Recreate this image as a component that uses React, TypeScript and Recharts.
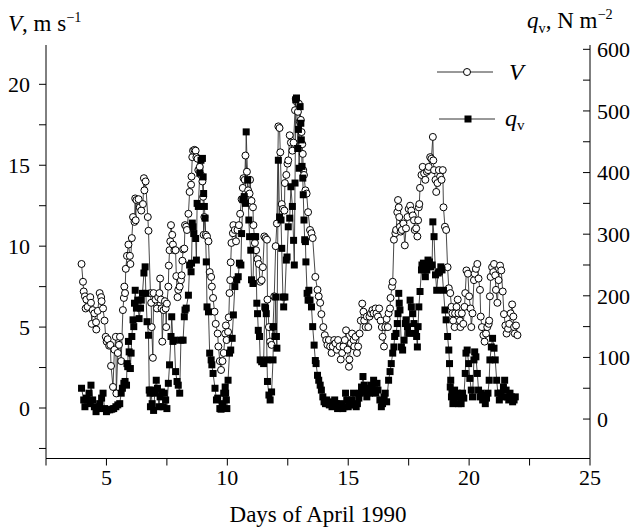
import { ComposedChart, Legend, Line, XAxis, YAxis } from "recharts";

// wind speed V (m/s), [day of April, value]
const V_POINTS: [number, number][] = [
  [3.97, 8.9], [4.03, 7.8], [4.06, 7.2], [4.11, 6.9], [4.14, 6.15], [4.17, 6.7], [4.22, 6.25],
  [4.33, 6.85], [4.36, 6.5], [4.39, 5.2], [4.43, 6.05], [4.5, 5.85], [4.57, 5.3], [4.58, 4.85],
  [4.64, 6.0], [4.72, 7.1], [4.78, 6.85], [4.8, 6.6], [4.86, 6.15], [4.92, 5.4], [4.97, 4.4],
  [5.01, 4.1], [5.05, 4.25], [5.11, 3.85], [5.16, 3.9], [5.19, 2.6], [5.27, 1.3], [5.33, 3.6],
  [5.39, 4.4], [5.41, 0.9], [5.47, 3.4], [5.52, 3.9], [5.56, 4.4], [5.61, 2.9], [5.68, 6.05],
  [5.72, 6.8], [5.74, 7.5], [5.77, 7.1], [5.8, 8.6], [5.85, 9.4], [5.91, 10.1], [5.97, 9.4],
  [5.99, 8.9], [6.05, 10.5], [6.1, 11.8], [6.16, 11.5], [6.19, 12.95], [6.21, 11.6], [6.24, 12.85],
  [6.33, 12.9], [6.38, 12.4], [6.44, 12.2], [6.51, 12.6], [6.55, 14.2], [6.57, 13.45], [6.62, 14.0],
  [6.71, 11.8], [6.74, 10.95], [6.82, 7.1], [6.85, 6.5], [6.87, 5.0], [6.92, 3.1], [6.95, 7.1],
  [7.03, 6.7], [7.09, 6.15], [7.14, 6.85], [7.19, 7.1], [7.22, 8.0], [7.25, 6.7], [7.28, 6.15],
  [7.31, 4.1], [7.36, 6.05], [7.42, 6.6], [7.45, 6.15], [7.47, 5.0], [7.5, 6.45], [7.56, 7.5],
  [7.58, 8.8], [7.61, 9.75], [7.64, 10.3], [7.67, 11.3], [7.72, 10.7], [7.75, 10.1], [7.81, 9.75],
  [7.86, 9.75], [7.89, 8.15], [7.94, 6.85], [7.97, 7.3], [8.03, 7.5], [8.08, 7.9], [8.11, 8.2],
  [8.14, 9.1], [8.17, 9.8], [8.22, 9.85], [8.25, 11.3], [8.3, 11.2], [8.33, 11.0], [8.39, 12.0],
  [8.44, 13.35], [8.5, 13.8], [8.52, 14.3], [8.55, 15.5], [8.58, 15.9], [8.64, 15.95], [8.69, 15.9],
  [8.72, 15.5], [8.77, 15.4], [8.8, 14.7], [8.86, 14.9], [8.91, 14.4], [8.97, 14.0], [9.0, 13.05],
  [9.02, 10.7], [9.05, 11.8], [9.11, 10.7], [9.16, 10.6], [9.22, 10.3], [9.27, 8.4], [9.33, 8.1],
  [9.36, 7.5], [9.41, 6.8], [9.47, 5.95], [9.52, 5.2], [9.6, 4.6], [9.63, 3.8], [9.69, 2.9],
  [9.74, 2.35], [9.8, 2.9], [9.85, 3.4], [9.91, 4.6], [9.94, 5.1], [9.97, 4.2], [10.03, 4.7],
  [10.06, 5.6], [10.09, 7.1], [10.12, 7.9], [10.14, 9.0], [10.17, 10.2], [10.23, 10.8], [10.25, 11.3],
  [10.31, 11.0], [10.36, 10.3], [10.42, 11.0], [10.48, 11.3], [10.53, 12.0], [10.59, 12.9],
  [10.64, 13.6], [10.67, 14.2], [10.72, 14.1], [10.75, 15.6], [10.81, 14.6], [10.86, 13.45],
  [10.92, 13.25], [10.94, 14.1], [11.0, 12.8], [11.06, 12.4], [11.08, 11.3], [11.14, 10.2],
  [11.19, 9.75], [11.25, 9.2], [11.3, 8.9], [11.36, 7.8], [11.42, 7.9], [11.47, 8.7], [11.53, 10.6],
  [11.58, 10.5], [11.64, 10.4], [11.66, 6.7], [11.72, 5.0], [11.77, 4.1], [11.83, 3.9], [11.89, 5.0],
  [11.94, 6.9], [12.0, 10.0], [12.05, 11.4], [12.11, 17.4], [12.16, 17.3], [12.19, 15.8],
  [12.25, 12.6], [12.3, 12.3], [12.36, 12.2], [12.38, 13.9], [12.44, 14.4], [12.49, 15.1],
  [12.52, 15.3], [12.58, 16.85], [12.63, 16.4], [12.69, 15.9], [12.74, 16.4], [12.8, 18.4],
  [12.83, 19.1], [12.88, 18.9], [12.92, 18.3], [12.96, 18.8], [13.0, 17.7], [13.04, 17.8],
  [13.07, 17.05], [13.1, 16.3], [13.12, 15.7], [13.14, 14.7], [13.17, 14.4], [13.23, 13.45],
  [13.28, 13.25], [13.34, 12.1], [13.42, 11.0], [13.48, 10.8], [13.53, 10.5], [13.64, 8.1],
  [13.73, 7.3], [13.78, 6.9], [13.84, 6.5], [13.89, 5.8], [13.97, 5.0], [14.03, 4.5], [14.09, 4.2],
  [14.14, 3.9], [14.2, 4.2], [14.25, 3.8], [14.31, 3.4], [14.36, 3.8], [14.42, 4.2], [14.47, 4.0],
  [14.53, 3.6], [14.58, 4.2], [14.64, 3.8], [14.69, 3.0], [14.75, 3.4], [14.8, 3.8], [14.86, 4.2],
  [14.91, 4.8], [14.97, 3.6], [15.03, 2.55], [15.05, 3.0], [15.11, 4.0], [15.16, 4.6], [15.22, 4.2],
  [15.25, 3.8], [15.3, 4.4], [15.36, 3.4], [15.41, 3.8], [15.47, 4.6], [15.52, 5.4], [15.58, 6.45],
  [15.63, 5.95], [15.66, 5.4], [15.72, 5.0], [15.77, 5.65], [15.83, 5.0], [15.88, 5.65],
  [15.94, 5.85], [16.0, 6.05], [16.05, 5.85], [16.13, 6.15], [16.17, 5.85], [16.23, 5.65],
  [16.28, 6.15], [16.34, 5.4], [16.39, 5.0], [16.42, 4.4], [16.48, 3.8], [16.53, 5.0], [16.59, 5.5],
  [16.64, 5.0], [16.67, 5.85], [16.73, 6.15], [16.75, 6.8], [16.81, 7.5], [16.84, 7.8], [16.89, 10.4],
  [16.95, 10.8], [16.98, 11.0], [17.03, 12.1], [17.06, 12.85], [17.09, 12.4], [17.11, 11.8],
  [17.14, 11.2], [17.17, 10.9], [17.22, 11.0], [17.28, 11.4], [17.34, 10.05], [17.39, 11.1],
  [17.45, 11.8], [17.5, 12.3], [17.56, 12.5], [17.61, 12.2], [17.67, 11.9], [17.72, 11.6],
  [17.75, 11.0], [17.81, 11.1], [17.86, 10.6], [17.89, 11.6], [17.92, 12.4], [17.94, 12.6],
  [17.97, 13.6], [18.03, 14.4], [18.08, 14.9], [18.14, 14.5], [18.19, 14.1], [18.25, 14.6],
  [18.3, 14.7], [18.33, 14.9], [18.39, 15.5], [18.44, 15.4], [18.5, 16.75], [18.52, 15.3],
  [18.55, 14.7], [18.61, 14.1], [18.64, 13.35], [18.69, 13.9], [18.75, 14.7], [18.8, 14.3],
  [18.86, 14.1], [18.91, 14.7], [18.94, 12.4], [19.0, 11.2], [19.05, 11.0], [19.11, 8.7],
  [19.16, 7.4], [19.22, 7.1], [19.27, 6.25], [19.31, 5.85], [19.34, 5.4], [19.4, 5.0], [19.42, 5.85],
  [19.48, 6.25], [19.53, 6.7], [19.56, 5.85], [19.62, 5.4], [19.64, 5.0], [19.7, 5.85], [19.76, 5.2],
  [19.81, 6.25], [19.84, 7.1], [19.89, 8.5], [19.95, 8.3], [20.0, 6.9], [20.06, 6.15], [20.09, 5.0],
  [20.14, 5.85], [20.2, 7.9], [20.23, 8.3], [20.28, 8.6], [20.34, 8.9], [20.39, 8.0], [20.45, 7.3],
  [20.48, 5.65], [20.53, 5.0], [20.59, 4.5], [20.64, 4.1], [20.7, 4.6], [20.75, 5.0], [20.81, 5.2],
  [20.83, 5.4], [20.86, 6.9], [20.89, 8.1], [20.95, 8.7], [21.0, 8.4], [21.03, 8.9], [21.08, 8.2],
  [21.11, 7.3], [21.17, 6.5], [21.22, 7.9], [21.28, 8.8], [21.33, 8.5], [21.39, 7.2], [21.44, 5.8],
  [21.5, 5.1], [21.55, 4.6], [21.61, 4.9], [21.66, 5.2], [21.72, 5.85], [21.78, 6.4], [21.83, 5.65],
  [21.86, 5.0], [21.89, 4.6], [21.94, 5.1], [22.0, 4.5],
];

// snow transport q_v (N/m2), [day of April, value]
const Q_POINTS: [number, number][] = [
  [3.97, 50], [4.06, 31], [4.11, 20], [4.17, 34], [4.28, 42], [4.31, 25], [4.36, 55], [4.43, 31],
  [4.5, 20], [4.57, 12], [4.64, 17], [4.72, 25], [4.8, 34], [4.86, 42], [4.92, 17], [5.0, 12],
  [5.05, 15], [5.14, 15], [5.22, 16], [5.3, 17], [5.39, 20], [5.47, 23], [5.55, 25], [5.61, 42],
  [5.66, 50], [5.72, 58], [5.77, 61], [5.83, 55], [5.85, 90], [5.88, 85], [5.91, 126], [5.94, 109],
  [5.99, 82], [6.02, 107], [6.05, 134], [6.1, 161], [6.13, 150], [6.16, 188], [6.19, 209],
  [6.24, 180], [6.3, 193], [6.35, 163], [6.41, 180], [6.44, 193], [6.49, 204], [6.55, 237],
  [6.6, 247], [6.63, 204], [6.68, 158], [6.74, 136], [6.77, 47], [6.8, 42], [6.82, 20], [6.84, 47],
  [6.89, 25], [6.95, 14], [7.0, 42], [7.06, 63], [7.11, 50], [7.17, 20], [7.22, 36], [7.28, 44],
  [7.34, 20], [7.39, 42], [7.45, 31], [7.5, 17], [7.56, 58], [7.61, 88], [7.67, 134], [7.7, 166],
  [7.75, 126], [7.81, 128], [7.86, 77], [7.92, 61], [7.97, 55], [8.03, 42], [8.08, 128], [8.17, 128],
  [8.22, 166], [8.25, 177], [8.3, 180], [8.39, 201], [8.44, 250], [8.5, 239], [8.52, 253],
  [8.55, 318], [8.58, 312], [8.61, 301], [8.69, 293], [8.72, 258], [8.75, 350], [8.8, 345],
  [8.86, 399], [8.91, 420], [8.97, 423], [9.0, 393], [9.02, 366], [9.05, 345], [9.08, 326],
  [9.13, 255], [9.16, 182], [9.22, 174], [9.27, 107], [9.33, 96], [9.36, 88], [9.41, 74], [9.49, 50],
  [9.55, 31], [9.6, 34], [9.69, 17], [9.74, 16], [9.8, 25], [9.85, 42], [9.91, 52], [9.93, 42],
  [9.96, 31], [9.98, 17], [10.03, 63], [10.09, 107], [10.14, 112], [10.2, 131], [10.25, 169],
  [10.31, 215], [10.39, 226], [10.45, 231], [10.5, 253], [10.56, 250], [10.59, 301], [10.64, 356],
  [10.7, 361], [10.75, 350], [10.78, 466], [10.84, 388], [10.89, 323], [10.92, 296], [10.97, 274],
  [11.0, 226], [11.06, 220], [11.11, 296], [11.17, 296], [11.22, 188], [11.25, 171], [11.28, 144],
  [11.33, 134], [11.36, 96], [11.42, 93], [11.5, 90], [11.55, 182], [11.58, 180], [11.61, 171],
  [11.64, 96], [11.66, 61], [11.72, 39], [11.77, 31], [11.83, 44], [11.89, 96], [11.91, 150],
  [11.97, 134], [12.0, 198], [12.03, 134], [12.05, 115], [12.11, 420], [12.16, 328], [12.22, 323],
  [12.25, 277], [12.3, 198], [12.33, 182], [12.38, 198], [12.44, 258], [12.47, 263], [12.52, 312],
  [12.58, 326], [12.63, 377], [12.69, 345], [12.74, 290], [12.77, 250], [12.8, 383], [12.83, 518],
  [12.86, 521], [12.91, 439], [12.94, 470], [12.97, 407], [13.01, 507], [13.04, 480], [13.06, 453],
  [13.09, 410], [13.12, 391], [13.14, 364], [13.17, 323], [13.2, 291], [13.23, 288], [13.25, 255],
  [13.3, 204], [13.34, 193], [13.37, 209], [13.42, 193], [13.48, 182], [13.53, 150], [13.59, 120],
  [13.64, 95], [13.67, 90], [13.73, 71], [13.78, 63], [13.84, 55], [13.89, 47], [13.95, 36],
  [14.0, 28], [14.06, 25], [14.11, 31], [14.17, 25], [14.22, 23], [14.28, 28], [14.33, 20],
  [14.39, 25], [14.44, 31], [14.5, 25], [14.56, 17], [14.61, 23], [14.67, 20], [14.72, 25],
  [14.78, 17], [14.83, 20], [14.89, 42], [14.94, 31], [15.0, 20], [15.05, 23], [15.11, 25],
  [15.16, 31], [15.22, 42], [15.27, 23], [15.33, 20], [15.38, 25], [15.44, 34], [15.5, 42],
  [15.55, 52], [15.61, 69], [15.66, 55], [15.72, 44], [15.77, 36], [15.83, 50], [15.88, 42],
  [15.94, 55], [16.0, 50], [16.05, 63], [16.13, 42], [16.19, 58], [16.23, 47], [16.31, 31],
  [16.37, 20], [16.42, 25], [16.48, 36], [16.53, 42], [16.59, 28], [16.67, 63], [16.73, 77],
  [16.78, 90], [16.84, 107], [16.89, 117], [16.92, 134], [16.98, 139], [17.03, 155], [17.06, 171],
  [17.09, 204], [17.11, 188], [17.14, 177], [17.2, 117], [17.25, 112], [17.31, 128], [17.36, 155],
  [17.39, 161], [17.45, 150], [17.5, 139], [17.56, 193], [17.61, 182], [17.67, 171], [17.72, 155],
  [17.78, 139], [17.83, 134], [17.86, 117], [17.89, 150], [17.92, 182], [17.97, 207], [18.03, 242],
  [18.05, 250], [18.11, 253], [18.16, 247], [18.19, 231], [18.25, 242], [18.3, 258], [18.36, 255],
  [18.41, 247], [18.47, 250], [18.5, 320], [18.55, 296], [18.61, 234], [18.66, 209], [18.72, 237],
  [18.77, 239], [18.83, 247], [18.88, 242], [18.94, 209], [19.0, 177], [19.05, 161], [19.11, 134],
  [19.16, 112], [19.19, 90], [19.22, 52], [19.24, 63], [19.27, 36], [19.29, 42], [19.33, 25],
  [19.36, 31], [19.4, 47], [19.45, 36], [19.51, 42], [19.56, 25], [19.62, 36], [19.67, 25],
  [19.73, 42], [19.78, 34], [19.84, 74], [19.87, 107], [19.92, 112], [19.98, 90], [20.03, 66],
  [20.09, 47], [20.14, 36], [20.2, 96], [20.23, 109], [20.28, 101], [20.34, 74], [20.39, 47],
  [20.45, 36], [20.5, 42], [20.56, 31], [20.61, 39], [20.67, 25], [20.72, 34], [20.78, 42],
  [20.83, 63], [20.86, 96], [20.92, 117], [20.97, 131], [21.03, 115], [21.08, 96], [21.14, 63],
  [21.19, 42], [21.25, 31], [21.3, 42], [21.36, 36], [21.42, 52], [21.47, 63], [21.53, 47],
  [21.58, 36], [21.64, 31], [21.69, 42], [21.75, 36], [21.8, 28], [21.86, 31], [21.91, 36],
];

const DAY_TICKS = [2.5, 5, 7.5, 10, 12.5, 15, 17.5, 20, 22.5, 25];
const V_TICKS = [-2.5, 0, 2.5, 5, 7.5, 10, 12.5, 15, 17.5, 20];
const Q_TICKS = [0, 50, 100, 150, 200, 250, 300, 350, 400, 450, 500, 550, 600];

const FONT = '"Liberation Serif", "Times New Roman", serif';
const TICK_FONT = 22;
const INK = "#000";
const textStyle = { fontFamily: FONT, fontSize: TICK_FONT };

const vData = V_POINTS.map(([day, v]) => ({ day, v }));
const qData = Q_POINTS.map(([day, q]) => ({ day, q }));

function BottomTick({ x, y, payload }: any) {
  if (payload.value % 5 !== 0) return <g />;
  return (
    <text x={x} y={y} dy="0.71em" textAnchor="middle" fill={INK} style={textStyle}>
      {payload.value}
    </text>
  );
}

function LeftTick({ x, y, payload }: any) {
  if (payload.value % 5 !== 0) return <g />;
  return (
    <text x={x} y={y} dy="0.355em" textAnchor="end" fill={INK} style={textStyle}>
      {payload.value}
    </text>
  );
}

function TopTick({ x, y }: any) {
  return <line x1={x} x2={x} y1={y} y2={y + 7} stroke={INK} strokeWidth={1} />;
}

function RightTick({ x, y, payload }: any) {
  const major = payload.value % 100 === 0;
  return (
    <g>
      <line x1={x} x2={x - 7} y1={y} y2={y} stroke={INK} strokeWidth={1} />
      {major && (
        <text x={x + 7} y={y} dy="0.355em" textAnchor="start" fill={INK} style={textStyle}>
          {payload.value}
        </text>
      )}
    </g>
  );
}

const circleDot = (p: any) => (
  <circle key={`v-${p.index}`} cx={p.cx} cy={p.cy} r={3.5} fill="#fff" stroke={INK} strokeWidth={1} />
);

const squareDot = (p: any) => (
  <rect key={`q-${p.index}`} x={p.cx - 3.5} y={p.cy - 3.5} width={7} height={7} fill={INK} />
);

function LegendBox() {
  return (
    <svg width={120} height={86} style={{ overflow: "visible", fontFamily: FONT }}>
      <line x1={7} x2={63} y1={17} y2={17} stroke="#333" strokeWidth={1} />
      <circle cx={37} cy={17} r={3.5} fill="#fff" stroke={INK} />
      <text x={79} y={25} fontSize={24} fontStyle="italic" fill={INK}>V</text>
      <line x1={9} x2={65} y1={64} y2={64} stroke="#333" strokeWidth={1} />
      <rect x={34.5} y={60.5} width={7} height={7} fill={INK} />
      <text x={75} y={71} fontSize={24} fill={INK}>
        <tspan fontStyle="italic">q</tspan>
        <tspan fontSize={15} dy={4}>v</tspan>
      </text>
    </svg>
  );
}

export default function App() {
  return (
    <div style={{ position: "absolute", left: 0, top: 0, width: 641, height: 531, background: "#fff", fontFamily: FONT, color: INK }}>
      <ComposedChart width={641} height={531} margin={{ top: 45, right: 0, bottom: 0, left: 0 }} style={{ fontFamily: FONT }}>
        <XAxis
          xAxisId="bottom"
          dataKey="day"
          type="number"
          domain={[2.5, 25]}
          ticks={DAY_TICKS}
          allowDataOverflow
          height={72.5}
          tickSize={7}
          tickMargin={4}
          stroke={INK}
          tick={<BottomTick />}
        />
        <XAxis
          xAxisId="top"
          orientation="top"
          dataKey="day"
          type="number"
          domain={[2.5, 25]}
          ticks={DAY_TICKS}
          allowDataOverflow
          height={0}
          tickSize={0}
          tickMargin={0}
          tickLine={false}
          stroke={INK}
          tick={<TopTick />}
        />
        <YAxis
          yAxisId="v"
          type="number"
          domain={[-3.12, 22.43]}
          ticks={V_TICKS}
          allowDataOverflow
          width={46}
          tickSize={7}
          tickMargin={9}
          stroke={INK}
          tick={<LeftTick />}
        />
        <YAxis
          yAxisId="q"
          orientation="right"
          type="number"
          domain={[-64, 607]}
          ticks={Q_TICKS}
          allowDataOverflow
          width={51}
          tickSize={0}
          tickMargin={0}
          tickLine={false}
          stroke={INK}
          tick={<RightTick />}
        />
        <Line
          xAxisId="bottom"
          yAxisId="v"
          data={vData}
          dataKey="v"
          type="linear"
          stroke="#333"
          strokeWidth={0.9}
          dot={circleDot}
          activeDot={false}
          isAnimationActive={false}
        />
        <Line
          xAxisId="bottom"
          yAxisId="q"
          data={qData}
          dataKey="q"
          type="linear"
          stroke="#333"
          strokeWidth={0.9}
          dot={squareDot}
          activeDot={false}
          isAnimationActive={false}
        />
        <Legend
          layout="vertical"
          align="center"
          verticalAlign="middle"
          content={() => <LegendBox />}
          wrapperStyle={{ left: 430, top: 55, width: 120, height: 86 }}
        />
      </ComposedChart>
      <div style={{ position: "absolute", left: 8, top: 5, fontSize: 23, lineHeight: "24px", whiteSpace: "nowrap" }}>
        <i>V</i>, m s<sup style={{ fontSize: "0.62em" }}>−1</sup>
      </div>
      <div style={{ position: "absolute", left: 527, top: 2, fontSize: 23, lineHeight: "24px", whiteSpace: "nowrap" }}>
        <i>q</i>
        <sub style={{ fontSize: "0.62em" }}>v</sub>, N m<sup style={{ fontSize: "0.62em" }}>−2</sup>
      </div>
      <div style={{ position: "absolute", left: 0, width: 636, top: 503, fontSize: 23, lineHeight: "24px", textAlign: "center" }}>
        Days of April 1990
      </div>
    </div>
  );
}
